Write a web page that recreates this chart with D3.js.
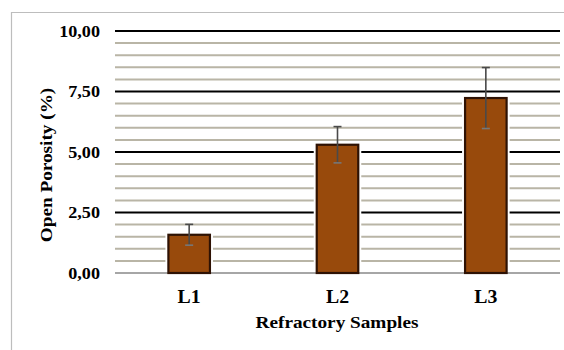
<!DOCTYPE html>
<html><head><meta charset="utf-8">
<script src="https://cdn.jsdelivr.net/npm/d3@7"></script>
<style>body{margin:0;background:#fff}svg{display:block}</style>
</head><body><svg id="c" width="564" height="350"></svg>
<script>
const categories = ["L1","L2","L3"];
const values = [1.58, 5.30, 7.23];
const errors = [0.43, 0.75, 1.26];
const majorTicks = [0, 2.5, 5, 7.5, 10];
const tickLabels = ["0,00","2,50","5,00","7,50","10,00"];
const xTitle = "Refractory Samples";
const yTitle = "Open Porosity (%)";

const FONT = "'Liberation Serif', 'Times New Roman', serif";
const svg = d3.select("#c").attr("font-family", FONT).attr("font-weight","bold");
const L = 115, R = 560, T = 31, B = 273;
svg.append("path").attr("d","M11.5,350 V12.5 H564").attr("fill","none").attr("stroke","#bdbdbd").attr("stroke-width",1.2);

const x = d3.scaleBand().domain(categories).range([L,R]).paddingInner(0.72).paddingOuter(0.36);
const y = d3.scaleLinear().domain([0,10]).range([B,T]);

const minor = d3.range(0,10.01,0.5).filter(v=>!majorTicks.some(m=>Math.abs(m-v)<1e-6));
svg.append("g").selectAll("line").data(minor).join("line")
  .attr("x1",L).attr("x2",R).attr("y1",d=>y(d)).attr("y2",d=>y(d))
  .attr("stroke","#b9b5a6").attr("stroke-width",2);
svg.append("g").selectAll("line").data(majorTicks).join("line")
  .attr("x1",L).attr("x2",R).attr("y1",d=>y(d)).attr("y2",d=>y(d))
  .attr("stroke",(d)=>d===0?"#888":"#000").attr("stroke-width",d=>d===0?1.5:2);

svg.append("g").selectAll("text").data(majorTicks).join("text")
  .attr("transform",d=>`translate(100,${y(d)}) scale(1.1,1)`).attr("dy","0.35em").attr("text-anchor","end")
  .attr("font-family",FONT).attr("font-weight","bold")
  .attr("font-size",16.5).text((d,i)=>tickLabels[i]);

const g = svg.append("g");
g.selectAll("rect.halo").data(values).join("rect").attr("class","halo")
  .attr("x",(d,i)=>x(categories[i])-3).attr("width",x.bandwidth()+6)
  .attr("y",d=>y(d)-2).attr("height",d=>B-y(d)+1).attr("fill","#fff");
g.selectAll("rect.bar").data(values).join("rect").attr("class","bar")
  .attr("x",(d,i)=>x(categories[i])).attr("width",x.bandwidth())
  .attr("y",d=>y(d)).attr("height",d=>B-y(d))
  .attr("fill","#984a0c").attr("stroke","#2e1204").attr("stroke-width",2.2);

const eb = svg.append("g").attr("stroke","#4a4a4a").attr("stroke-width",1.6);
values.forEach((v,i)=>{
  const cx = x(categories[i]) + x.bandwidth()/2;
  eb.append("line").attr("x1",cx).attr("x2",cx).attr("y1",y(v+errors[i])).attr("y2",y(v-errors[i]));
  eb.append("line").attr("x1",cx-4).attr("x2",cx+4).attr("y1",y(v+errors[i])).attr("y2",y(v+errors[i]));
  eb.append("line").attr("x1",cx-4).attr("x2",cx+4).attr("y1",y(v-errors[i])).attr("y2",y(v-errors[i])).attr("stroke","#777");
});

svg.append("g").selectAll("text").data(categories).join("text")
  .attr("transform",d=>`translate(${x(d)+x.bandwidth()/2},303) scale(1.1,1)`).attr("text-anchor","middle")
  .attr("font-family",FONT).attr("font-weight","bold")
  .attr("font-size",18).text(d=>d);
svg.append("text").attr("transform","translate(337,328) scale(1.1,1)").attr("text-anchor","middle")
  .attr("font-family",FONT).attr("font-weight","bold").attr("font-size",17.5).text(xTitle);
svg.append("text").attr("transform","translate(52,165) rotate(-90) scale(1.1,1)").attr("text-anchor","middle")
  .attr("font-family",FONT).attr("font-weight","bold").attr("font-size",17.5).text(yTitle);
</script></body></html>
